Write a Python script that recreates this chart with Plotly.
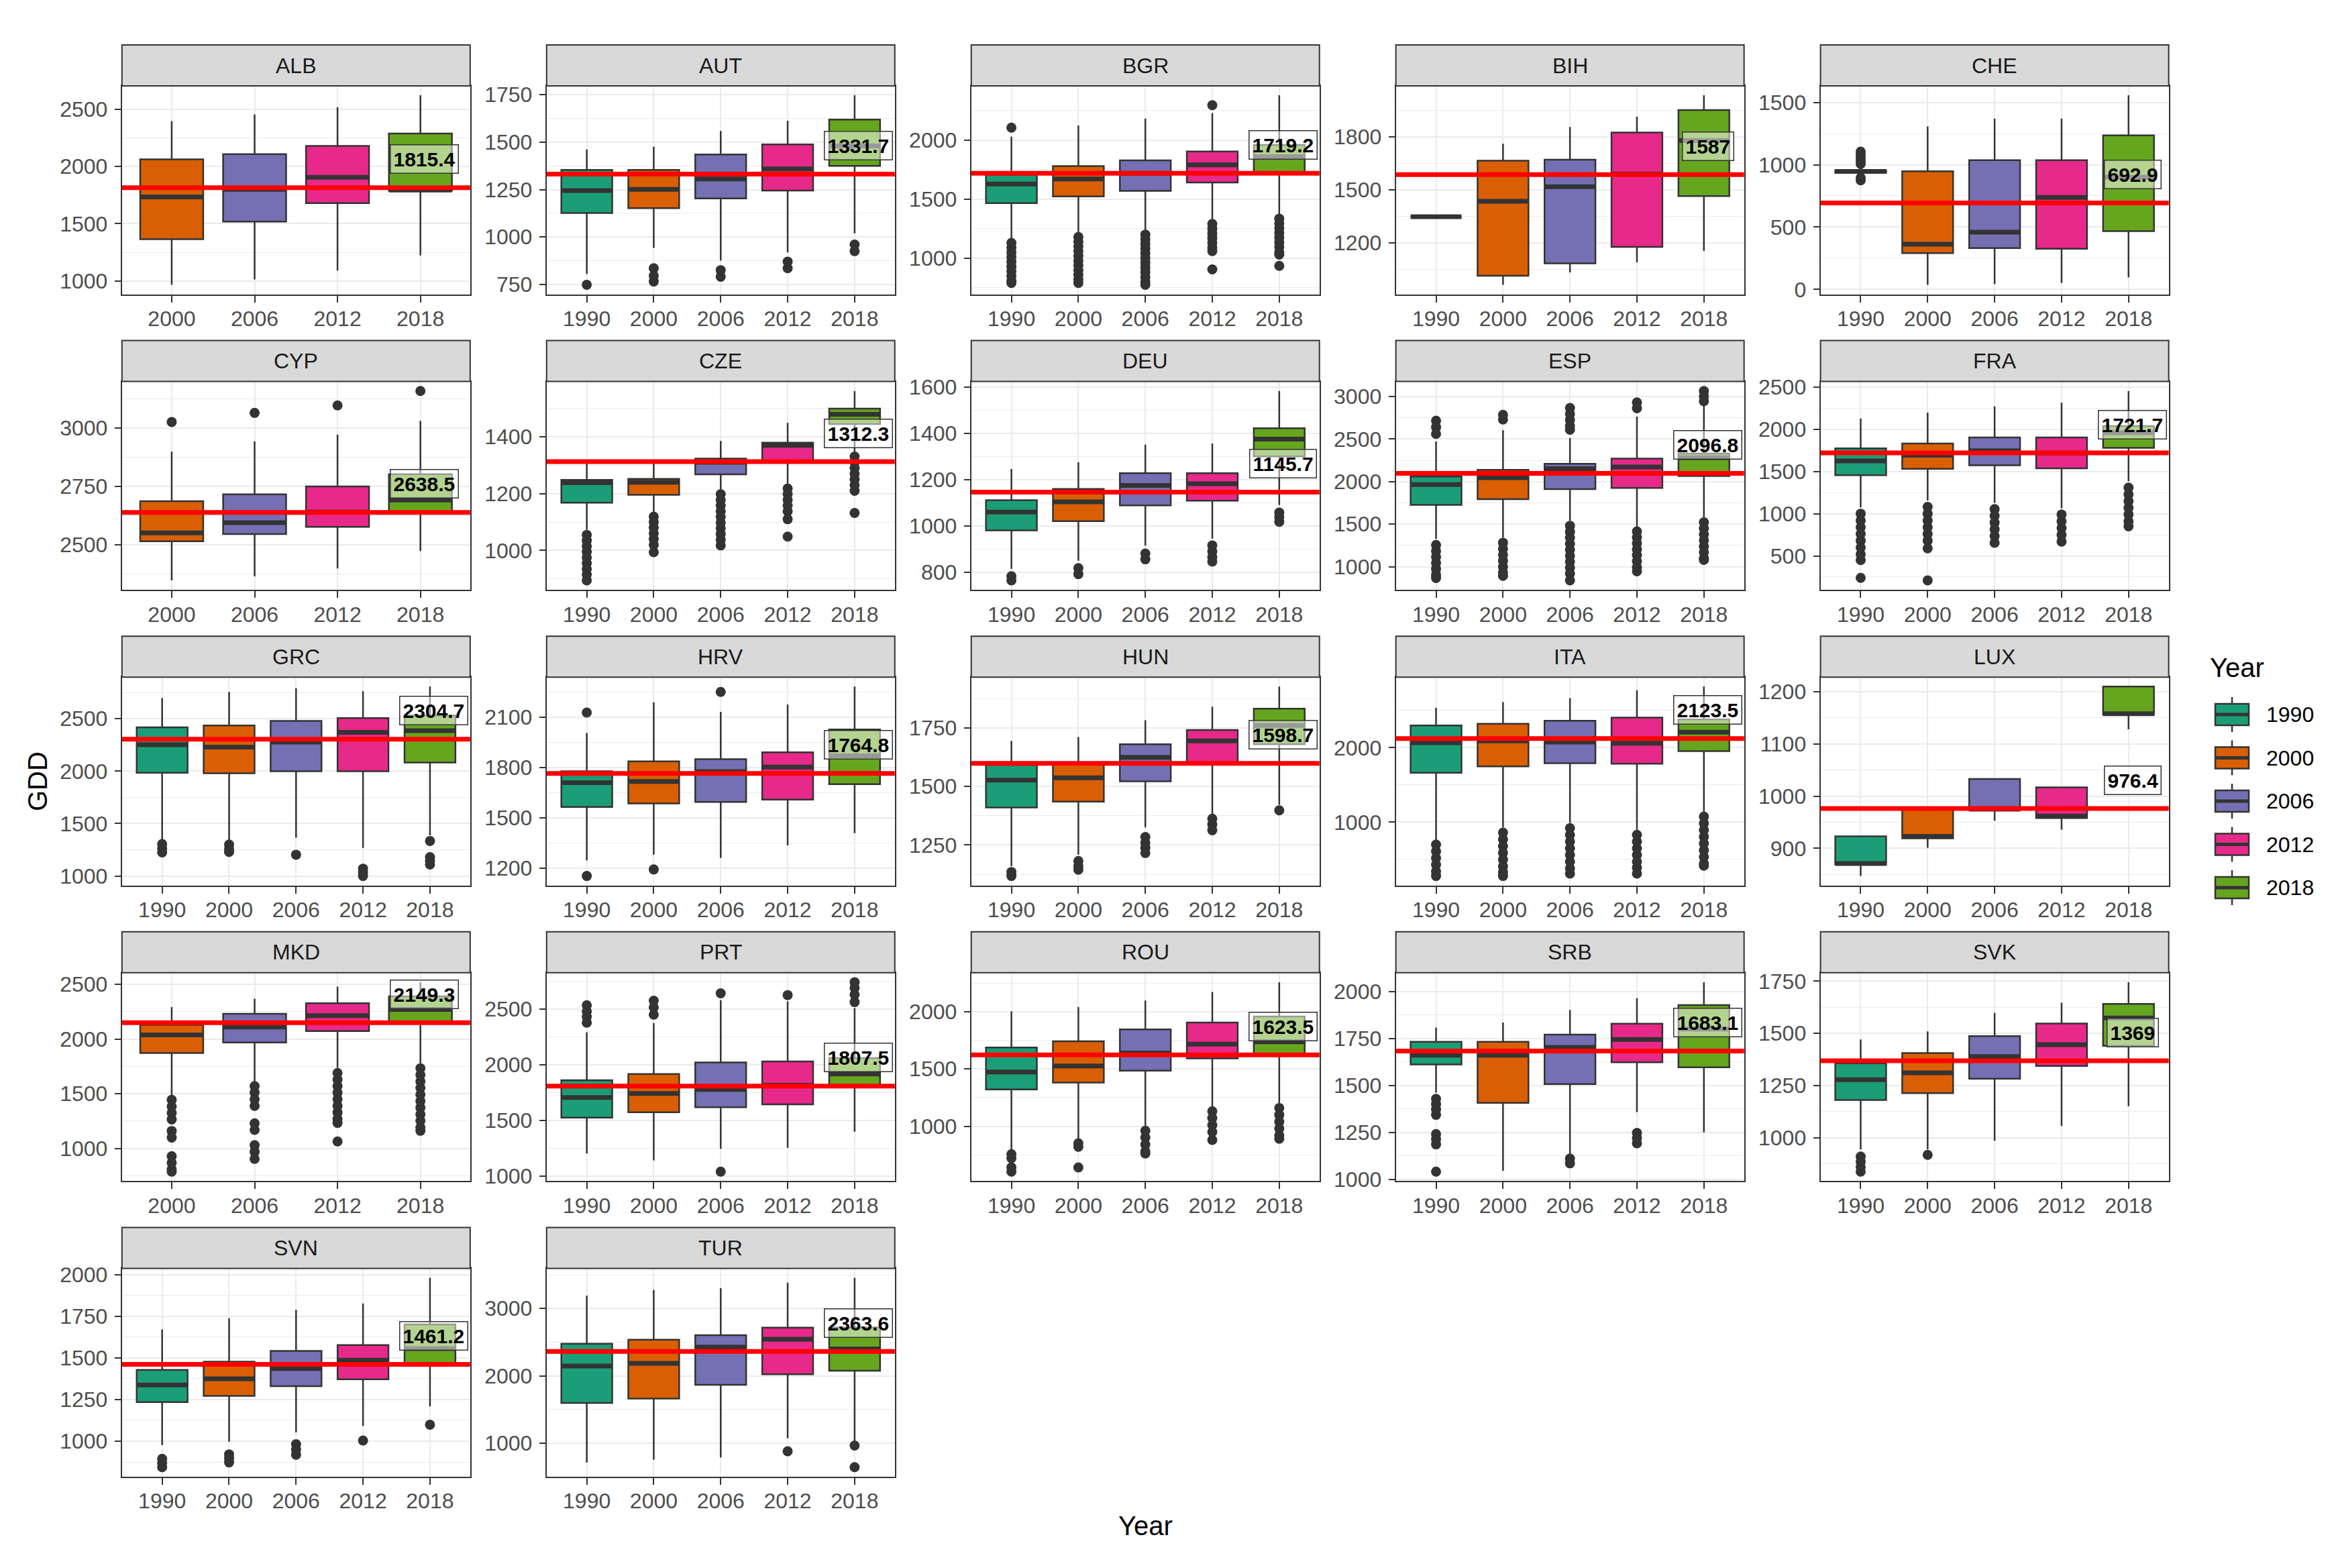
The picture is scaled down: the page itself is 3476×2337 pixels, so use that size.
import plotly.graph_objects as go

# ---------------- data ----------------
YEARS_ALL = ["1990", "2000", "2006", "2012", "2018"]
YEARS_NO1990 = ["2000", "2006", "2012", "2018"]
YEAR_COLORS = ["#1B9E77", "#D95F02", "#7570B3", "#E7298A", "#66A61E"]

COUNTRIES = ["ALB", "AUT", "BGR", "BIH", "CHE", "CYP", "CZE", "DEU", "ESP", "FRA", "GRC",
             "HRV", "HUN", "ITA", "LUX", "MKD", "PRT", "ROU", "SRB", "SVK", "SVN", "TUR"]

YEARS = {c: YEARS_ALL for c in COUNTRIES}
YEARS.update({"ALB": YEARS_NO1990, "CYP": YEARS_NO1990, "MKD": YEARS_NO1990})

LOWER = {
    "ALB": [966, 1012, 1090, 1222], "AUT": [805, 942, 876, 918, 1019],
    "BGR": [1150, 1207, 1227, 1322, 1360], "BIH": [1349, 964, 1034, 1091, 1155],
    "CHE": [920, 38, 43, 52, 97], "CYP": [2347, 2364, 2398, 2473],
    "CZE": [1073, 1136, 1216, 1236, 1347], "DEU": [815, 850, 915, 945, 1090],
    "ESP": [1327, 1340, 1540, 1473, 1580], "FRA": [1075, 1156, 1129, 1062, 1384],
    "GRC": [1334, 1334, 1366, 1268, 1388], "HRV": [1246, 1280, 1260, 1335, 1409],
    "HUN": [1160, 1209, 1325, 1383, 1422], "ITA": [762, 930, 991, 899, 1144],
    "LUX": [847, 901, 953, 936, 1128], "MKD": [1489, 1603, 1737, 1779],
    "PRT": [1203, 1141, 1244, 1254, 1398], "ROU": [777, 886, 1005, 1173, 1203],
    "SRB": [1461, 1045, 1129, 1358, 1250], "SVK": [945, 945, 986, 1056, 1151],
    "SVN": [977, 997, 1052, 1092, 1208], "TUR": [713, 756, 790, 1076, 1025],
}
Q1 = {
    "ALB": [1365, 1519, 1680, 1788], "AUT": [1126, 1152, 1203, 1245, 1375],
    "BGR": [1466, 1523, 1571, 1641, 1724], "BIH": [1349, 1015, 1085, 1178, 1466],
    "CHE": [935, 291, 332, 327, 467], "CYP": [2515, 2546, 2577, 2643],
    "CZE": [1168, 1196, 1268, 1312, 1445], "DEU": [981, 1021, 1089, 1109, 1300],
    "ESP": [1726, 1793, 1912, 1926, 2066], "FRA": [1457, 1532, 1573, 1538, 1780],
    "GRC": [1985, 1980, 1999, 1999, 2082], "HRV": [1565, 1586, 1595, 1609, 1701],
    "HUN": [1410, 1435, 1522, 1600, 1680], "ITA": [1664, 1749, 1792, 1786, 1954],
    "LUX": [869, 919, 973, 958, 1156], "MKD": [1872, 1969, 2072, 2161],
    "PRT": [1525, 1573, 1618, 1644, 1815], "ROU": [1322, 1381, 1486, 1593, 1633],
    "SRB": [1611, 1407, 1507, 1623, 1596], "SVK": [1181, 1214, 1283, 1344, 1440],
    "SVN": [1235, 1272, 1330, 1371, 1465], "TUR": [1597, 1664, 1866, 2024, 2077],
}
MEDIAN = {
    "ALB": [1735, 1800, 1906, 1795], "AUT": [1245, 1251, 1306, 1359, 1480],
    "BGR": [1628, 1672, 1720, 1791, 1860], "BIH": [1349, 1436, 1519, 1590, 1780],
    "CHE": [946, 363, 459, 738, 900], "CYP": [2551, 2595, 2640, 2692],
    "CZE": [1238, 1240, 1310, 1370, 1479], "DEU": [1060, 1104, 1175, 1182, 1375],
    "ESP": [1965, 2045, 2152, 2173, 2280], "FRA": [1626, 1694, 1747, 1720, 1960],
    "GRC": [2252, 2230, 2278, 2371, 2386], "HRV": [1710, 1717, 1776, 1803, 1870],
    "HUN": [1527, 1537, 1624, 1694, 1760], "ITA": [2067, 2092, 2076, 2061, 2208],
    "LUX": [871, 923, 975, 962, 1158], "MKD": [2037, 2110, 2213, 2271],
    "PRT": [1706, 1741, 1778, 1815, 1916], "ROU": [1474, 1526, 1639, 1718, 1738],
    "SRB": [1660, 1660, 1702, 1744, 1800], "SVK": [1278, 1311, 1389, 1446, 1574],
    "SVN": [1337, 1374, 1436, 1486, 1555], "TUR": [2145, 2185, 2427, 2544, 2400],
}
Q3 = {
    "ALB": [2063, 2108, 2181, 2289], "AUT": [1354, 1354, 1435, 1488, 1619],
    "BGR": [1705, 1781, 1829, 1905, 1960], "BIH": [1349, 1666, 1672, 1826, 1953],
    "CHE": [955, 948, 1036, 1036, 1235], "CYP": [2687, 2716, 2750, 2803],
    "CZE": [1248, 1252, 1323, 1379, 1499], "DEU": [1111, 1160, 1228, 1228, 1422],
    "ESP": [2059, 2138, 2210, 2271, 2330], "FRA": [1774, 1833, 1903, 1903, 2040],
    "GRC": [2419, 2436, 2480, 2506, 2530], "HRV": [1778, 1837, 1850, 1891, 2027],
    "HUN": [1592, 1597, 1680, 1741, 1832], "ITA": [2300, 2321, 2361, 2404, 2380],
    "LUX": [923, 975, 1033, 1017, 1210], "MKD": [2130, 2230, 2327, 2389],
    "PRT": [1860, 1916, 2021, 2029, 2060], "ROU": [1688, 1742, 1847, 1906, 1960],
    "SRB": [1732, 1732, 1770, 1828, 1927], "SVK": [1357, 1406, 1487, 1547, 1641],
    "SVN": [1428, 1477, 1541, 1577, 1700], "TUR": [2477, 2538, 2605, 2716, 2720],
}
UPPER = {
    "ALB": [2397, 2456, 2519, 2623], "AUT": [1462, 1476, 1559, 1613, 1747],
    "BGR": [2030, 2125, 2183, 2230, 2380], "BIH": [1349, 1762, 1857, 1915, 2036],
    "CHE": [975, 1307, 1370, 1370, 1556], "CYP": [2900, 2944, 2973, 3032],
    "CZE": [1308, 1308, 1385, 1449, 1561], "DEU": [1246, 1275, 1351, 1356, 1583],
    "ESP": [2471, 2604, 2511, 2763, 2896], "FRA": [2129, 2199, 2271, 2317, 2455],
    "GRC": [2697, 2756, 2792, 2762, 2807], "HRV": [2006, 2189, 2132, 2176, 2283],
    "HUN": [1694, 1711, 1782, 1840, 1926], "ITA": [2535, 2612, 2667, 2771, 2821],
    "LUX": [923, 975, 1033, 1017, 1210], "MKD": [2292, 2368, 2478, 2519],
    "PRT": [2292, 2374, 2579, 2569, 2508], "ROU": [2005, 2041, 2098, 2173, 2259],
    "SRB": [1808, 1834, 1901, 1964, 2049], "SVK": [1471, 1509, 1598, 1647, 1745],
    "SVN": [1670, 1738, 1788, 1826, 1980], "TUR": [3193, 3277, 3301, 3385, 3456],
}
OUTLIERS = {
    "ALB": [[], [], [], []],
    "AUT": [[748], [835, 795, 765], [825, 790], [870, 835], [960, 925]],
    "BGR": [[2106, 1130, 1090, 1050, 1010, 970, 930, 890, 850, 810, 790],
            [1180, 1140, 1100, 1060, 1020, 980, 940, 900, 860, 820, 790],
            [1200, 1160, 1120, 1080, 1040, 1000, 960, 920, 880, 840, 800, 775],
            [2297, 1290, 1250, 1210, 1170, 1130, 1090, 1060, 905],
            [1335, 1295, 1255, 1215, 1175, 1135, 1095, 1050, 1030, 935]],
    "BIH": [[], [], [], [], []],
    "CHE": [[1105, 1080, 1055, 1030, 1005, 895, 875], [], [], [], []],
    "CYP": [[3027], [3066], [3098], [3160]],
    "CZE": [[1055, 1035, 1015, 995, 975, 955, 935, 915, 895],
            [1119, 1100, 1080, 1060, 1040, 1020, 994],
            [1198, 1178, 1158, 1138, 1118, 1098, 1078, 1058, 1038, 1018],
            [1218, 1198, 1178, 1158, 1138, 1110, 1049],
            [1330, 1310, 1290, 1270, 1250, 1230, 1210, 1132]],
    "DEU": [[783, 765], [818, 792], [881, 856], [916, 890, 865, 846], [1058, 1038, 1018]],
    "ESP": [[2715, 2640, 2560, 1255, 1185, 1115, 1045, 975, 905, 867],
            [2785, 2730, 1282, 1210, 1140, 1070, 1000, 930, 893],
            [2865, 2795, 2725, 2655, 2609, 1481, 1410, 1340, 1270, 1200, 1130, 1060, 990, 920, 840],
            [2931, 2862, 1415, 1345, 1275, 1205, 1135, 1065, 995, 947],
            [3065, 3000, 2945, 1521, 1450, 1380, 1310, 1240, 1170, 1100, 1080]],
    "FRA": [[1000, 920, 840, 760, 680, 600, 520, 450, 240],
            [1080, 1000, 920, 840, 760, 680, 590, 210],
            [1055, 975, 895, 815, 735, 655],
            [990, 910, 830, 750, 670],
            [1310, 1230, 1150, 1070, 990, 910, 850]],
    "GRC": [[1305, 1265, 1225], [1300, 1260, 1230], [1203], [1070, 1035, 1000],
            [1334, 1180, 1145, 1110]],
    "HRV": [[2128, 1153], [1192], [2251], [], []],
    "HUN": [[1135, 1118], [1182, 1160, 1145], [1284, 1260, 1238, 1216], [1362, 1338, 1313], [1398]],
    "ITA": [[700, 610, 520, 430, 340, 278],
            [860, 770, 680, 590, 500, 410, 330, 278],
            [920, 830, 740, 650, 560, 470, 380, 310],
            [830, 740, 650, 560, 470, 390, 310],
            [1075, 985, 895, 805, 715, 625, 535, 445, 416]],
    "LUX": [[], [], [], [], []],
    "MKD": [[1445, 1385, 1325, 1265, 1160, 1100, 930, 870, 810, 789],
            [1570, 1510, 1450, 1390, 1230, 1170, 1030, 970, 905],
            [1690, 1630, 1570, 1510, 1450, 1390, 1330, 1270, 1234, 1064],
            [1733, 1673, 1613, 1553, 1493, 1433, 1373, 1313, 1253, 1193, 1162]],
    "PRT": [[2534, 2480, 2430, 2378], [2575, 2515, 2450], [2641, 1040], [2625],
            [2741, 2690, 2630, 2562]],
    "ROU": [[755, 720, 640, 603], [850, 820, 639], [960, 900, 840, 780, 761],
            [1130, 1070, 1010, 950, 880], [1159, 1099, 1039, 979, 919, 890]],
    "SRB": [[1428, 1400, 1372, 1343, 1241, 1214, 1186, 1041], [], [1110, 1085],
            [1247, 1220, 1192], []],
    "SVK": [[910, 885, 860, 838], [918], [], [], []],
    "SVN": [[894, 870, 844], [921, 897, 873], [982, 950, 919], [1004], [1099]],
    "TUR": [[], [], [], [881], [965, 644]],
}
MEANS = {
    "ALB": 1815.4, "AUT": 1331.7, "BGR": 1719.2, "BIH": 1587, "CHE": 692.9, "CYP": 2638.5,
    "CZE": 1312.3, "DEU": 1145.7, "ESP": 2096.8, "FRA": 1721.7, "GRC": 2304.7, "HRV": 1764.8,
    "HUN": 1598.7, "ITA": 2123.5, "LUX": 976.4, "MKD": 2149.3, "PRT": 1807.5, "ROU": 1623.5,
    "SRB": 1683.1, "SVK": 1369, "SVN": 1461.2, "TUR": 2363.6,
}
TICK_STEP = {
    "ALB": 500, "AUT": 250, "BGR": 500, "BIH": 300, "CHE": 500, "CYP": 250, "CZE": 200,
    "DEU": 200, "ESP": 500, "FRA": 500, "GRC": 500, "HRV": 300, "HUN": 250, "ITA": 1000,
    "LUX": 100, "MKD": 500, "PRT": 500, "ROU": 500, "SRB": 250, "SVK": 250, "SVN": 250,
    "TUR": 1000,
}

# ---------------- layout constants (pixels) ----------------
W, H = 3476, 2337
PANEL_X0, COL_PITCH, PANEL_W = 181.8, 632.95, 519.0
PANEL_Y0, ROW_PITCH, PANEL_H = 128.0, 440.6, 310.5
STRIP_H = 61.0
BOX_W = 0.76
DARK = "#333333"
GRID = "#EBEBEB"
TICK_FONT = dict(size=32, color="#4D4D4D")
FONT = "Liberation Sans, Arial, Helvetica, sans-serif"


def px(x):
    return x / W


def py(y):
    return 1 - y / H


fig = go.Figure()
axes = {}
shapes = []
annotations = []

for k, c in enumerate(COUNTRIES):
    r, col = divmod(k, 5)
    yrs = YEARS[c]
    n = len(yrs)
    sfx = "" if k == 0 else str(k + 1)
    xa, ya = "x" + sfx, "y" + sfx
    left = PANEL_X0 + col * COL_PITCH
    top = PANEL_Y0 + r * ROW_PITCH
    bottom = top + PANEL_H

    for j, yr in enumerate(yrs):
        fig.add_trace(go.Box(
            x=[j], q1=[Q1[c][j]], median=[MEDIAN[c][j]], q3=[Q3[c][j]],
            lowerfence=[LOWER[c][j]], upperfence=[UPPER[c][j]],
            orientation="v", fillcolor=YEAR_COLORS[YEARS_ALL.index(yr)],
            line=dict(color=DARK, width=2.5), whiskerwidth=0, width=BOX_W,
            boxpoints=False, xaxis=xa, yaxis=ya, showlegend=False, hoverinfo="skip"))

    mx, my = [], []
    for j in range(n):
        mx += [j - BOX_W / 2, j + BOX_W / 2, None]
        my += [MEDIAN[c][j], MEDIAN[c][j], None]
    fig.add_trace(go.Scatter(x=mx, y=my, mode="lines", line=dict(color=DARK, width=7),
                             xaxis=xa, yaxis=ya, showlegend=False, hoverinfo="skip"))

    ox, oy = [], []
    for j in range(n):
        ox += [j] * len(OUTLIERS[c][j])
        oy += OUTLIERS[c][j]
    if oy:
        fig.add_trace(go.Scatter(x=ox, y=oy, mode="markers",
                                 marker=dict(color=DARK, size=15, line=dict(width=0)),
                                 xaxis=xa, yaxis=ya, showlegend=False, hoverinfo="skip"))

    vals = LOWER[c] + UPPER[c] + [v for lst in OUTLIERS[c] for v in lst]
    dmin, dmax = min(vals), max(vals)
    D = dmax - dmin
    step = TICK_STEP[c]

    axes["xaxis" + sfx] = dict(
        domain=[px(left), px(left + PANEL_W)], anchor=ya, range=[-0.6, n - 0.4],
        tickmode="array", tickvals=list(range(n)), ticktext=yrs, tickfont=TICK_FONT,
        showgrid=True, gridcolor=GRID, gridwidth=2.2, zeroline=False,
        showline=True, linecolor=DARK, linewidth=2, mirror=True,
        ticks="outside", ticklen=10, tickwidth=2, tickcolor=DARK, ticklabelstandoff=-3,
        fixedrange=True)
    axes["yaxis" + sfx] = dict(
        domain=[py(bottom), py(top)], anchor=xa, range=[dmin - 0.05 * D, dmax + 0.05 * D],
        tickmode="linear", tick0=0, dtick=step, tickfont=TICK_FONT,
        showgrid=True, gridcolor=GRID, gridwidth=2.2, zeroline=False,
        minor=dict(tick0=0, dtick=step / 2, showgrid=True, gridcolor=GRID, gridwidth=1.1),
        showline=True, linecolor=DARK, linewidth=2, mirror=True,
        ticks="outside", ticklen=9, tickwidth=2, tickcolor=DARK, ticklabelstandoff=4,
        fixedrange=True)

    # mean line
    shapes.append(dict(type="line", xref=xa + " domain", yref=ya, x0=0, x1=1,
                       y0=MEANS[c], y1=MEANS[c], line=dict(color="#FF0000", width=7),
                       layer="above"))
    # strip
    shapes.append(dict(type="rect", xref="paper", yref="paper",
                       x0=px(left), x1=px(left + PANEL_W), y0=py(top), y1=py(top - STRIP_H),
                       fillcolor="#D9D9D9", line=dict(color=DARK, width=2), layer="above"))
    annotations.append(dict(xref="paper", yref="paper", x=px(left + PANEL_W / 2),
                            y=py(top - STRIP_H / 2), text=c, showarrow=False,
                            font=dict(size=32, color="#1A1A1A"),
                            xanchor="center", yanchor="middle"))
    # mean label
    annotations.append(dict(xref=xa, yref=ya, x=n - 1, y=MEANS[c] + 0.15 * D,
                            text="<b>%s</b>" % format(MEANS[c], "g"), showarrow=False,
                            xshift=6, font=dict(size=30, color="#000000"),
                            bgcolor="rgba(255,255,255,0.5)", bordercolor=DARK,
                            borderwidth=1.5, borderpad=4,
                            xanchor="center", yanchor="middle"))

# axis titles
annotations.append(dict(xref="paper", yref="paper", x=px(56), y=py(1165), text="GDD",
                        textangle=-90, showarrow=False, font=dict(size=40, color="#000000"),
                        xanchor="center", yanchor="middle"))
annotations.append(dict(xref="paper", yref="paper", x=px(1707), y=py(2274), text="Year",
                        showarrow=False, font=dict(size=40, color="#000000"),
                        xanchor="center", yanchor="middle"))

# custom legend
LEG_X, LEG_W, LEG_Y0, LEG_PITCH = 3302, 50, 1065, 64.5
annotations.append(dict(xref="paper", yref="paper", x=px(3292), y=py(995), text="Year",
                        showarrow=False, font=dict(size=40, color="#000000"),
                        xanchor="left", yanchor="middle"))
for i, yr in enumerate(YEARS_ALL):
    cy = LEG_Y0 + i * LEG_PITCH
    cx = LEG_X + LEG_W / 2
    shapes.append(dict(type="line", xref="paper", yref="paper", x0=px(cx), x1=px(cx),
                       y0=py(cy - 26), y1=py(cy + 26), line=dict(color=DARK, width=2.5)))
    shapes.append(dict(type="rect", xref="paper", yref="paper", x0=px(LEG_X),
                       x1=px(LEG_X + LEG_W), y0=py(cy + 16), y1=py(cy - 16),
                       fillcolor=YEAR_COLORS[i], line=dict(color=DARK, width=2.5)))
    shapes.append(dict(type="line", xref="paper", yref="paper", x0=px(LEG_X),
                       x1=px(LEG_X + LEG_W), y0=py(cy), y1=py(cy),
                       line=dict(color=DARK, width=5)))
    annotations.append(dict(xref="paper", yref="paper", x=px(3376), y=py(cy), text=yr,
                            showarrow=False, font=dict(size=32, color="#000000"),
                            xanchor="left", yanchor="middle"))

fig.update_layout(
    width=W, height=H, margin=dict(l=0, r=0, t=0, b=0, autoexpand=False),
    paper_bgcolor="white", plot_bgcolor="white",
    font=dict(family=FONT, color="#000000"),
    showlegend=False, shapes=shapes, annotations=annotations, **axes)

fig.write_html("out.html")
